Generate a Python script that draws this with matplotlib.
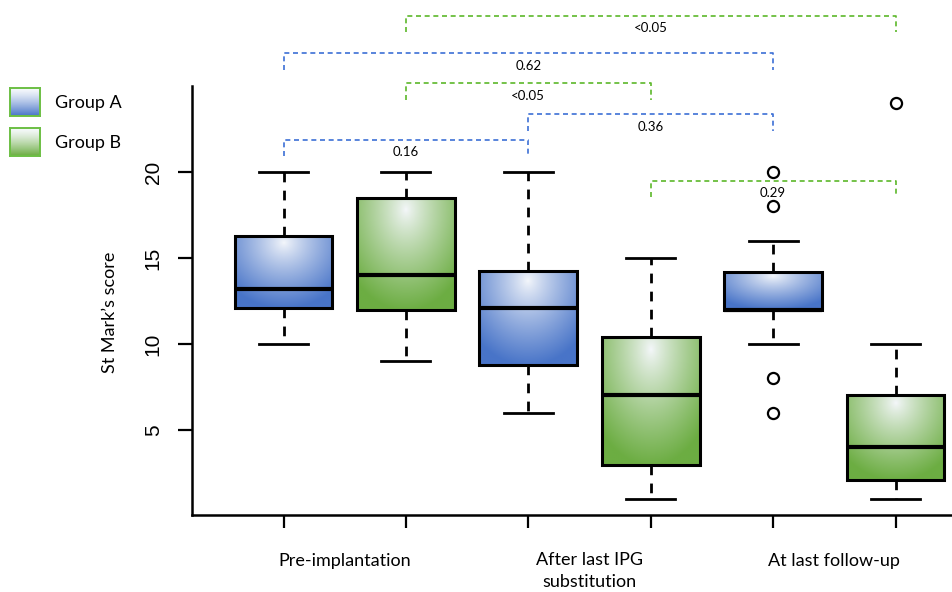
import numpy as np
import matplotlib
matplotlib.use("Agg")
import matplotlib.pyplot as plt

# ---- data ----
groups = ["Group A", "Group B", "Group A", "Group B", "Group A", "Group B"]
whisk_lo = [10, 9, 6, 1, 10, 1]
q1 = [12.1, 12.0, 8.8, 2.95, 12.0, 2.1]
med = [13.2, 14.0, 12.1, 7.05, 12.0, 4.0]
q3 = [16.3, 18.5, 14.25, 10.4, 14.2, 7.05]
whisk_hi = [20, 20, 20, 15, 16, 10]
outliers = [[], [], [], [], [20, 18, 8, 6], [24]]
period_labels = ["Pre-implantation", "After last IPG\nsubstitution", "At last follow-up"]
y_ticks = [5, 10, 15, 20]
# comparisons: (box i, box j, label, group)
comparisons = [
    (2, 6, "<0.05", "Group B"),
    (1, 5, "0.62", "Group A"),
    (2, 4, "<0.05", "Group B"),
    (3, 5, "0.36", "Group A"),
    (1, 3, "0.16", "Group A"),
    (4, 6, "0.29", "Group B"),
]
bracket_y = [29.07, 26.9, 25.15, 23.35, 21.86, 19.5]

# ---- style ----
dark = {"Group A": np.array([0x48, 0x74, 0xc8]) / 255.0,
        "Group B": np.array([0x6c, 0xad, 0x42]) / 255.0}
bracket_col = {"Group A": "#3c6fd6", "Group B": "#5cb82a"}
TEXT_FONT = ["Lato", "DejaVu Sans"]
NUM_FONT = ["Liberation Sans", "DejaVu Sans"]

W, H = 952, 592
fig = plt.figure(figsize=(W / 100, H / 100), dpi=100)
ax_l, ax_r, ax_t, ax_b = 192, 952, 86, 515
ax = fig.add_axes([ax_l / W, 1 - ax_b / H, (ax_r - ax_l) / W, (ax_b - ax_t) / H])

# pixel mapping: y = 516 - 17.2 v ; x = 283.5 + 122.4 (k-1)
ylo = (516 - ax_b) / 17.2
yhi = (516 - ax_t) / 17.2
xlo = 1 + (ax_l - 283.5) / 122.4
xhi = 1 + (ax_r - 283.5) / 122.4
ax.set_xlim(xlo, xhi)
ax.set_ylim(ylo, yhi)

positions = np.arange(1, len(groups) + 1)
stats = []
for i in range(len(groups)):
    stats.append(dict(med=med[i], q1=q1[i], q3=q3[i], whislo=whisk_lo[i],
                      whishi=whisk_hi[i], fliers=outliers[i]))

bp = ax.bxp(stats, positions=positions, widths=0.8, patch_artist=True,
            showfliers=True,
            boxprops=dict(facecolor="none", edgecolor="black", linewidth=2.2),
            medianprops=dict(color="black", linewidth=3),
            whiskerprops=dict(color="black", linewidth=2, linestyle=(0, (3.5, 3))),
            capprops=dict(color="black", linewidth=2),
            flierprops=dict(marker="o", markerfacecolor="white", markeredgecolor="black",
                            markersize=8, markeredgewidth=1.6, linestyle="none"))
for c in bp["caps"]:
    xd = c.get_xdata()
    m = np.mean(xd)
    c.set_xdata([m - 0.2, m + 0.2])


def gradient_img(col, n=120):
    yy, xx = np.mgrid[0:1:n * 1j, 0:1:n * 1j]  # yy: 0 top -> 1 bottom
    d = np.sqrt(((xx - 0.5) / 0.8) ** 2 + ((yy - 0.1) / 1.0) ** 2)
    t = np.clip(d * 1.1, 0, 1) ** 0.85
    light = np.array([0.96, 0.97, 0.985])
    img = light[None, None, :] * (1 - t[..., None]) + col[None, None, :] * t[..., None]
    return img


for i, patch in enumerate(bp["boxes"]):
    g = groups[i]
    img = gradient_img(dark[g])
    x0 = positions[i] - 0.4
    im = ax.imshow(img, extent=(x0, x0 + 0.8, q1[i], q3[i]), aspect="auto",
                   interpolation="bilinear", zorder=1)
    im.set_clip_path(patch)
    patch.set_zorder(2)
for k in ("medians", "whiskers", "caps", "fliers"):
    for a in bp[k]:
        a.set_zorder(3)
ax.set_xlim(xlo, xhi)
ax.set_ylim(ylo, yhi)

# axes styling
for s in ("top", "right"):
    ax.spines[s].set_visible(False)
ax.spines["left"].set_linewidth(1.8)
ax.spines["bottom"].set_linewidth(1.8)
ax.set_yticks(y_ticks)
ax.set_yticklabels([str(v) for v in y_ticks], rotation=90, va="center",
                   fontsize=15, family=NUM_FONT)
ax.tick_params(axis="y", length=10, width=1.6, pad=11)
ax.set_xticks(positions)
ax.set_xticklabels([""] * len(positions))
ax.tick_params(axis="x", length=9.5, width=1.6)

for j, lab in enumerate(period_labels):
    xc = 1.5 + 2 * j
    if "\n" in lab:
        ax.text(xc, (516 - 552) / 17.2, lab, ha="center", va="top",
                fontsize=13, family=TEXT_FONT, clip_on=False, linespacing=1.45)
    else:
        ax.text(xc, (516 - 561) / 17.2, lab, ha="center", va="center",
                fontsize=13, family=TEXT_FONT, clip_on=False)

ax.set_ylabel("St Mark\u2019s score", fontsize=13, family=TEXT_FONT)
ax.yaxis.set_label_coords((118 - ax_l) / (ax_r - ax_l), (ax_b - 312) / (ax_b - ax_t))

# comparison brackets
drop = 0.95
for (i, j, lab, g), yb in zip(comparisons, bracket_y):
    col = bracket_col[g]
    ax.plot([i, i, j, j], [yb - drop, yb, yb, yb - drop], color=col, lw=1.2,
            linestyle=(0, (3, 2.2)), clip_on=False, zorder=4)
    ax.text((i + j) / 2, yb - 0.72, lab, ha="center", va="center", fontsize=9.5,
            family=TEXT_FONT, clip_on=False, zorder=4)

# legend (outside plot, top-left)
legend_items = ["Group A", "Group B"]
legend_tops = [88, 128]
for name, top in zip(legend_items, legend_tops):
    lax = fig.add_axes([10 / W, 1 - (top + 28) / H, 30 / W, 28 / H])
    n = 60
    t = np.linspace(0, 1, n)[:, None] ** 1.3
    light = np.array([0.97, 0.98, 0.99])
    img = light[None, None, :] * (1 - t[..., None]) + dark[name][None, None, :] * t[..., None]
    img = np.repeat(img, 10, axis=1)
    lax.imshow(img, aspect="auto", extent=(0, 1, 0, 1), interpolation="bilinear")
    lax.set_xticks([])
    lax.set_yticks([])
    for s in lax.spines.values():
        s.set_edgecolor("#6cbf44")
        s.set_linewidth(1.4)
    fig.text(55 / W, 1 - (top + 15) / H, name, ha="left", va="center",
             fontsize=13, family=TEXT_FONT)

fig.savefig("out.png", dpi=100)
